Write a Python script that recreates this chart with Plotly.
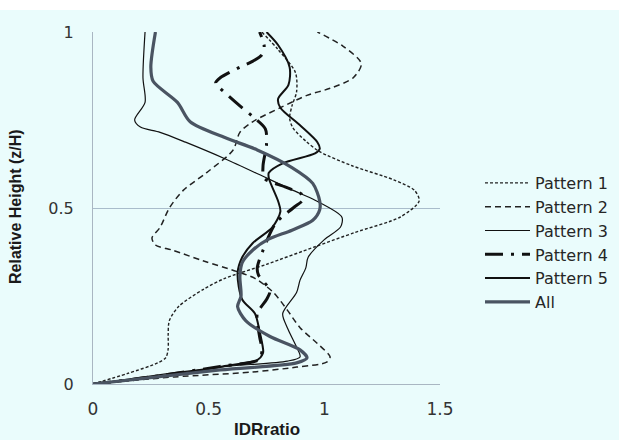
import plotly.graph_objects as go

# ---- data: relative height (z/H) and IDR ratio for each profile ----
p1_z = [0, 0.03, 0.06, 0.075, 0.10, 0.14, 0.18, 0.22, 0.27, 0.30, 0.34, 0.39, 0.43, 0.475, 0.52, 0.55, 0.58, 0.62, 0.66, 0.69, 0.727, 0.755, 0.79, 0.83, 0.885, 0.95, 1.0]
p1_v = [0, 0.15, 0.28, 0.315, 0.325, 0.325, 0.33, 0.37, 0.48, 0.57, 0.75, 0.96, 1.13, 1.33, 1.41, 1.39, 1.30, 1.12, 0.98, 0.92, 0.865, 0.85, 0.86, 0.88, 0.875, 0.80, 0.73]

p2_z = [0, 0.02, 0.034, 0.048, 0.062, 0.077, 0.115, 0.16, 0.21, 0.26, 0.30, 0.32, 0.35, 0.38, 0.395, 0.415, 0.445, 0.50, 0.55, 0.60, 0.664, 0.715, 0.745, 0.785, 0.82, 0.84, 0.87, 0.91, 0.96, 1.0]
p2_v = [0, 0.35, 0.69, 0.88, 1.01, 1.025, 0.97, 0.895, 0.84, 0.78, 0.70, 0.62, 0.475, 0.345, 0.27, 0.255, 0.29, 0.33, 0.39, 0.49, 0.605, 0.635, 0.69, 0.81, 0.925, 1.025, 1.125, 1.16, 1.08, 0.97]

p3_z = [0, 0.03, 0.05, 0.065, 0.077, 0.105, 0.16, 0.20, 0.26, 0.295, 0.33, 0.36, 0.41, 0.446, 0.474, 0.522, 0.55, 0.59, 0.64, 0.687, 0.715, 0.73, 0.75, 0.80, 0.87, 1.0]
p3_v = [0, 0.33, 0.58, 0.84, 0.895, 0.88, 0.84, 0.82, 0.88, 0.895, 0.92, 0.93, 1.0, 1.07, 1.076, 0.96, 0.865, 0.735, 0.57, 0.40, 0.29, 0.205, 0.18, 0.225, 0.216, 0.225]

p4_z = [0, 0.02, 0.05, 0.07, 0.10, 0.135, 0.20, 0.24, 0.265, 0.31, 0.33, 0.38, 0.457, 0.50, 0.525, 0.54, 0.56, 0.585, 0.62, 0.68, 0.725, 0.76, 0.79, 0.84, 0.855, 0.87, 0.90, 0.915, 0.935, 0.96, 1.0]
p4_v = [0, 0.25, 0.55, 0.72, 0.73, 0.72, 0.71, 0.75, 0.765, 0.715, 0.71, 0.735, 0.79, 0.865, 0.91, 0.90, 0.83, 0.74, 0.735, 0.75, 0.745, 0.69, 0.635, 0.55, 0.53, 0.55, 0.635, 0.685, 0.73, 0.74, 0.72]

p5_z = [0, 0.02, 0.05, 0.068, 0.088, 0.10, 0.15, 0.20, 0.24, 0.315, 0.36, 0.40, 0.445, 0.49, 0.52, 0.585, 0.60, 0.627, 0.655, 0.668, 0.687, 0.735, 0.785, 0.81, 0.85, 0.90, 0.963, 1.0]
p5_v = [0, 0.27, 0.56, 0.71, 0.735, 0.735, 0.72, 0.70, 0.645, 0.625, 0.645, 0.69, 0.775, 0.81, 0.80, 0.76, 0.76, 0.82, 0.96, 0.98, 0.97, 0.895, 0.81, 0.80, 0.845, 0.85, 0.80, 0.75]

all_z = [0, 0.04, 0.06, 0.074, 0.097, 0.135, 0.18, 0.22, 0.25, 0.305, 0.345, 0.38, 0.41, 0.437, 0.465, 0.495, 0.52, 0.57, 0.615, 0.665, 0.70, 0.745, 0.80, 0.86, 0.90, 1.0]
all_v = [0, 0.55, 0.88, 0.925, 0.895, 0.765, 0.66, 0.625, 0.64, 0.635, 0.645, 0.69, 0.755, 0.86, 0.95, 0.98, 0.98, 0.95, 0.86, 0.71, 0.57, 0.42, 0.365, 0.26, 0.25, 0.27]

series_names = ["Pattern 1", "Pattern 2", "Pattern 3", "Pattern 4", "Pattern 5", "All"]
x_ticks = [0, 0.5, 1, 1.5]
x_tick_text = ["0", "0.5", "1", "1.5"]
y_ticks = [0, 0.5, 1]
y_tick_text = ["0", "0.5", "1"]

# ---- styling ----
W, H = 619, 440
ML, MR, MT, MB = 93, 179, 32, 56
PW, PH = W - ML - MR, H - MT - MB
BG = "#eafcfc"

styles = [
    dict(color="#222222", width=1.4, dash="3px,2px"),
    dict(color="#222222", width=1.5, dash="6px,4px"),
    dict(color="#111111", width=1.2, dash="solid"),
    dict(color="#111111", width=3.0, dash="18px,8px,3px,8px"),
    dict(color="#111111", width=2.0, dash="solid"),
    dict(color="#4a5462", width=3.2, dash="solid"),
]
data = [(p1_v, p1_z), (p2_v, p2_z), (p3_v, p3_z), (p4_v, p4_z), (p5_v, p5_z), (all_v, all_z)]

fig = go.Figure()
for name, (xv, zv), st in zip(series_names, data, styles):
    fig.add_trace(go.Scatter(
        x=xv, y=zv, name=name, mode="lines",
        line=dict(color=st["color"], width=st["width"], dash=st["dash"],
                  shape="spline", smoothing=0.8),
        hoverinfo="skip",
    ))

fig.update_layout(
    width=W, height=H,
    margin=dict(l=ML, r=MR, t=MT, b=MB, pad=0, autoexpand=False),
    paper_bgcolor=BG, plot_bgcolor=BG,
    font=dict(family="DejaVu Sans", size=17, color="#333333"),
    showlegend=True,
    legend=dict(
        xref="container", yref="container",
        x=480 / W, y=1 - 166 / H,
        xanchor="left", yanchor="top",
        bgcolor="rgba(0,0,0,0)", borderwidth=0,
        font=dict(family="DejaVu Sans", size=16, color="#262626"),
        tracegroupgap=0, itemwidth=45,
    ),
    xaxis=dict(
        range=[0, 1.5], tickvals=x_ticks, ticktext=x_tick_text,
        showgrid=False, zeroline=False,
        showline=True, linecolor="#a9b6c2", linewidth=1.2,
        ticks="", ticklabelstandoff=9,
        tickfont=dict(family="DejaVu Sans", size=17, color="#333333"),
        fixedrange=True,
    ),
    yaxis=dict(
        range=[0, 1], tickvals=y_ticks, ticktext=y_tick_text,
        showgrid=True, gridcolor="#a9bccb", gridwidth=1,
        zeroline=False,
        showline=True, linecolor="#a9b6c2", linewidth=1.2,
        ticks="", ticklabelstandoff=15,
        tickfont=dict(family="DejaVu Sans", size=16, color="#333333"),
        fixedrange=True,
    ),
    shapes=[
        dict(type="rect", xref="paper", yref="paper", layer="below",
             x0=-ML / PW, x1=(W - ML) / PW,
             y0=1 + (MT - 10) / PH, y1=1 + MT / PH,
             fillcolor="white", line=dict(width=0)),
    ],
    annotations=[
        dict(text="<b>Relative Height (z/H)</b>", xref="paper", yref="paper",
             x=(15 - ML) / PW, y=(MT + PH - 207) / PH, textangle=-90,
             showarrow=False, xanchor="center", yanchor="middle",
             font=dict(family="Liberation Sans, Arial", size=16, color="#1a1a1a")),
        dict(text="<b>IDRratio</b>", xref="paper", yref="paper",
             x=0.5, y=(MT + PH - 429) / PH,
             showarrow=False, xanchor="center", yanchor="middle",
             font=dict(family="Liberation Sans, Arial", size=17, color="#1a1a1a")),
    ],
)

fig.write_html("out.html")
